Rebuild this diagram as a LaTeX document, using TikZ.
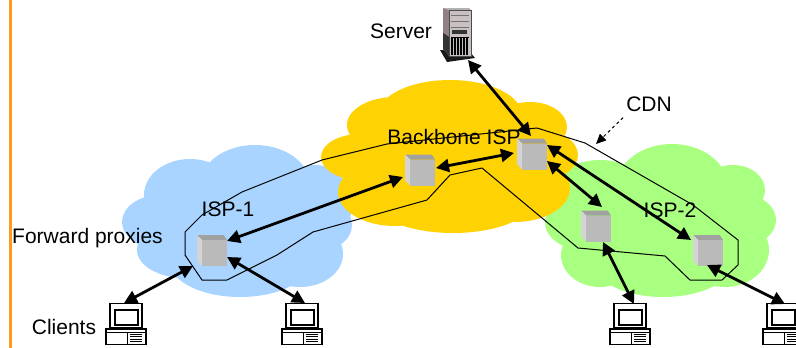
\documentclass[tikz,border=0pt]{standalone}
\usepackage{fontspec}
\setmainfont{Liberation Sans}
\usetikzlibrary{arrows.meta}
\definecolor{blueC}{HTML}{A8D4FF}
\definecolor{yellowC}{HTML}{FFD204}
\definecolor{greenC}{HTML}{A8FF80}
\definecolor{orangeC}{HTML}{FF9A1E}
\definecolor{towerface}{HTML}{C9C0C2}
\definecolor{towerside}{HTML}{8F8084}
\tikzset{
  x=1pt,y=-1pt,
  label text/.style={font=\fontsize{21}{24}\selectfont,text=black,inner sep=0pt},
  proxybox/.style={minimum width=31pt,minimum height=32pt,inner sep=0pt,outer sep=0pt},
  clientbox/.style={minimum width=40pt,minimum height=42pt,inner sep=0pt,outer sep=0pt},
  serverbox/.style={minimum width=36pt,minimum height=56pt,inner sep=0pt,outer sep=0pt},
  link/.style={line width=2.8pt,{Triangle[length=13pt,width=13pt]}-{Triangle[length=13pt,width=13pt]},black},
  pics/cube/.style={code={
    \fill[black!37] (-15,-15.5)--(11.7,-15.5)--(15,-10.5)--(-10,-10.5)--cycle;
    \fill[black!17] (-15,-15.5)--(-10,-10.5)--(-10,15.5)--(-15,10.5)--cycle;
    \fill[black!27] (-10,-10.5) rectangle (15,15.5);
  }},
  pics/pc/.style={code={
    \draw[line width=1.5pt,fill=white] (-16,-20.5) rectangle (16,4);
    \draw[line width=2pt,fill=white] (-11,-14) rectangle (12,1);
    \draw[line width=1.5pt,fill=white] (-20,5) rectangle (20,20.5);
    \draw[line width=1pt] (-20,8.5)--(20,8.5);
    \draw[line width=1pt] (1,8.5)--(1,20.5);
    \foreach \yy in {10.5,12.5,15,17.5} \draw[line width=.9pt] (4,\yy)--(16,\yy);
  }},
  pics/tower/.style={code={
    \fill[black!90] (-18,15)--(-11,27)--(17,23)--(12,17)--cycle;
    \fill[towerside] (-15,-27)--(-9,-25)--(-9,21)--(-15,14)--cycle;
    \fill[black!80] (-15,-2)--(-9,2)--(-9,21)--(-15,14)--cycle;
    \fill[black!30!white] (-15,-27)--(11,-27)--(13,-25)--(-9,-25)--cycle;
    \fill[towerface] (-9,-25) rectangle (13,21);
    \draw[black!70,line width=.6pt] (-9,-25) rectangle (13,21);
    \foreach \yy in {-20,-14,-8} \draw[black!55,line width=.7pt] (-7,\yy)--(11,\yy);
    \fill[black!80] (-6,-5) rectangle (9,-1);
    \fill[black] (-7,2) rectangle (11,20);
    \foreach \xx in {-5,-2,1,4,7,10} \draw[white!75!black,line width=.8pt] (\xx,3)--(\xx,20);
  }},
}
\begin{document}
\begin{tikzpicture}
\clip (0,0) rectangle (796,348);
\fill[white] (0,0) rectangle (796,348);
% ISP-2 cloud
\fill[greenC]
 (600,195) ellipse [x radius=50,y radius=35]
 (672,185) ellipse [x radius=55,y radius=41]
 (733,190) ellipse [x radius=32,y radius=25]
 (745,220) ellipse [x radius=31,y radius=25]
 (725,250) ellipse [x radius=44,y radius=37]
 (600,255) ellipse [x radius=39,y radius=32]
 (663,262) ellipse [x radius=70,y radius=35]
 (580,222) ellipse [x radius=35,y radius=27]
 (660,220) ellipse [x radius=100,y radius=60];
% ISP-1 cloud
\fill[blueC]
 (190,195) ellipse [x radius=46,y radius=36]
 (255,185) ellipse [x radius=55,y radius=40]
 (160,222) ellipse [x radius=38,y radius=27]
 (315,205) ellipse [x radius=37,y radius=40]
 (322,225) ellipse [x radius=30,y radius=25]
 (185,250) ellipse [x radius=48,y radius=28]
 (240,262) ellipse [x radius=70,y radius=35]
 (300,254) ellipse [x radius=43,y radius=33]
 (240,220) ellipse [x radius=90,y radius=60];
% Backbone cloud
\fill[yellowC]
 (395,125) ellipse [x radius=48,y radius=28]
 (450,115) ellipse [x radius=72,y radius=35]
 (530,127) ellipse [x radius=37,y radius=25]
 (360,157) ellipse [x radius=39,y radius=23]
 (540,155) ellipse [x radius=38,y radius=25]
 (515,188) ellipse [x radius=55,y radius=34]
 (395,192) ellipse [x radius=57,y radius=34]
 (453,200) ellipse [x radius=80,y radius=33]
 (450,160) ellipse [x radius=105,y radius=52];
% CDN outline
\draw[line width=1pt,line join=round] (185,232)--(185,255)--(202,280)--(227,280)--(277,255)--(313,232)
  --(427,200)--(450,175)--(482,168)--(578,248)--(665,256)--(690,280)--(722,280)--(738,265)--(738,240)
  --(693,205)--(585,143)--(537,128)--(387,144)--(322,160)--(242,192)--(202,215)--cycle;
% Proxies
\node[proxybox] (p1) at (212,250.5) {};
\node[proxybox] (p2) at (420,170) {};
\node[proxybox] (p3) at (532,154) {};
\node[proxybox] (p4) at (596,226) {};
\node[proxybox] (p5) at (708,250.5) {};
\pic at (p1) {cube};
\pic at (p2) {cube};
\pic at (p3) {cube};
\pic at (p4) {cube};
\pic at (p5) {cube};
% Clients and server
\node[clientbox] (c1) at (126,324) {};
\node[clientbox] (c2) at (302,324) {};
\node[clientbox] (c3) at (630,324) {};
\node[clientbox] (c4) at (783,324) {};
\pic at (c1) {pc};
\pic at (c2) {pc};
\pic at (c3) {pc};
\pic at (c4) {pc};
\node[serverbox] (srv) at (458,35) {};
\pic at (srv) {tower};
% Links
\draw[link] ([shift={(15,-9.5)}]p1.center) -- ([shift={(-17,7)}]p2.center);
\draw[link] ([shift={(16,-2)}]p2.center) -- ([shift={(-18,-1)}]p3.center);
\draw[link] ([shift={(-1,-18)}]p3.center) -- ([shift={(10,25)}]srv.center);
\draw[link] ([shift={(15,-9)}]p3.center) -- ([shift={(-17,-10.5)}]p5.center);
\draw[link] ([shift={(15,7)}]p3.center) -- ([shift={(6,-19)}]p4.center);
\draw[link] ([shift={(-19,15.5)}]p1.center) -- ([shift={(-2,-21)}]c1.center);
\draw[link] ([shift={(15,6.5)}]p1.center) -- ([shift={(3,-21)}]c2.center);
\draw[link] ([shift={(7,16)}]p4.center) -- ([shift={(4,-20)}]c3.center);
\draw[link] ([shift={(-1,14.5)}]p5.center) -- ([shift={(2,-20)}]c4.center);
% Labels
\node[label text] (tserver) at (401,31) {Server};
\node[label text] (tback) at (454,137) {Backbone ISP};
\node[label text] (tisp1) at (228,209) {ISP-1};
\node[label text] (tisp2) at (670,210) {ISP-2};
\node[label text,anchor=west] (tfp) at (12,238) {Forward proxies};
\node[label text] (tcl) at (64,327) {Clients};
\node[label text] (tcdn) at (649,104) {CDN};
\coordinate (cdnpt) at (596,144);
\draw[line width=1pt,dashed,-{Triangle[length=10pt,width=9pt]}] (tcdn.south west)++(-3,6) -- (cdnpt);
% Page rule
\fill[orangeC] (8.5,0) rectangle (11.5,348);
\end{tikzpicture}
\end{document}
